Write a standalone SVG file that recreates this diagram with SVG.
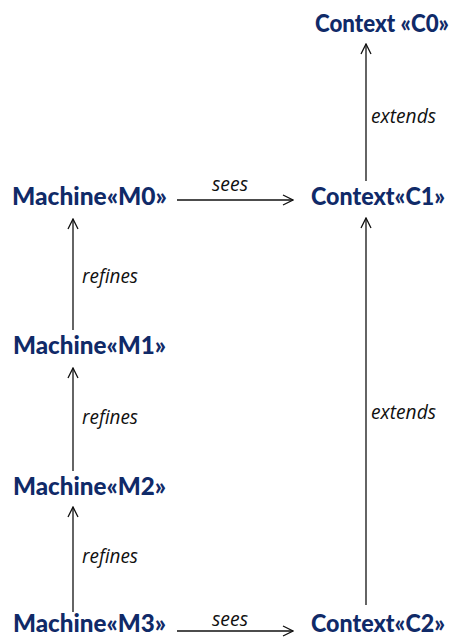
<svg xmlns="http://www.w3.org/2000/svg" width="455" height="637" viewBox="0 0 455 637">
  <style>
    .node { font-family: Lato, "Liberation Sans", sans-serif; font-weight: 900; font-size: 25px; fill: #102a68; }
    .lbl { font-family: "Open Sans", "Liberation Sans", sans-serif; font-style: italic; font-size: 20px; fill: #111; }
    .edge { stroke: #111; stroke-width: 1.3; fill: none; marker-end: url(#head); }
  </style>
  <defs>
    <marker id="head" viewBox="0 0 12 12" refX="11" refY="6" markerWidth="12" markerHeight="12" markerUnits="userSpaceOnUse" orient="auto">
      <path d="M1,1 L11,6 L1,11" fill="none" stroke="#111" stroke-width="1.3"/>
    </marker>
  </defs>
  <rect width="455" height="637" fill="#fff"/>

  <g id="connectors">
    <g id="e-c1-c0"><line class="edge" x1="366" y1="181" x2="366" y2="44"/><text class="lbl" x="371" y="123" textLength="65" lengthAdjust="spacingAndGlyphs">extends</text></g>
    <g id="e-m0-c1"><line class="edge" x1="177" y1="200" x2="293" y2="200"/><text class="lbl" x="212" y="191" textLength="36" lengthAdjust="spacingAndGlyphs">sees</text></g>
    <g id="e-m1-m0"><line class="edge" x1="73" y1="330" x2="73" y2="219"/><text class="lbl" x="82" y="283" textLength="56" lengthAdjust="spacingAndGlyphs">refines</text></g>
    <g id="e-m2-m1"><line class="edge" x1="73" y1="471" x2="73" y2="368"/><text class="lbl" x="82" y="424" textLength="56" lengthAdjust="spacingAndGlyphs">refines</text></g>
    <g id="e-m3-m2"><line class="edge" x1="73" y1="612" x2="73" y2="507"/><text class="lbl" x="82" y="563" textLength="56" lengthAdjust="spacingAndGlyphs">refines</text></g>
    <g id="e-c2-c1"><line class="edge" x1="366" y1="605" x2="366" y2="218"/><text class="lbl" x="371" y="419" textLength="65" lengthAdjust="spacingAndGlyphs">extends</text></g>
    <g id="e-m3-c2"><line class="edge" x1="177" y1="631" x2="293" y2="631"/><text class="lbl" x="212" y="626" textLength="36" lengthAdjust="spacingAndGlyphs">sees</text></g>
  </g>

  <g id="C0"><text class="node" x="315" y="32" style="font-size:24px" textLength="134" lengthAdjust="spacingAndGlyphs">Context «C0»</text></g>
  <g id="M0"><text class="node" x="12" y="205" textLength="155" lengthAdjust="spacingAndGlyphs">Machine«M0»</text></g>
  <g id="C1"><text class="node" x="311" y="205" textLength="134" lengthAdjust="spacingAndGlyphs">Context«C1»</text></g>
  <g id="M1"><text class="node" x="13" y="354" textLength="153" lengthAdjust="spacingAndGlyphs">Machine«M1»</text></g>
  <g id="M2"><text class="node" x="13" y="495" textLength="153" lengthAdjust="spacingAndGlyphs">Machine«M2»</text></g>
  <g id="M3"><text class="node" x="13" y="632" textLength="153" lengthAdjust="spacingAndGlyphs">Machine«M3»</text></g>
  <g id="C2"><text class="node" x="311" y="632" textLength="134" lengthAdjust="spacingAndGlyphs">Context«C2»</text></g>
</svg>
